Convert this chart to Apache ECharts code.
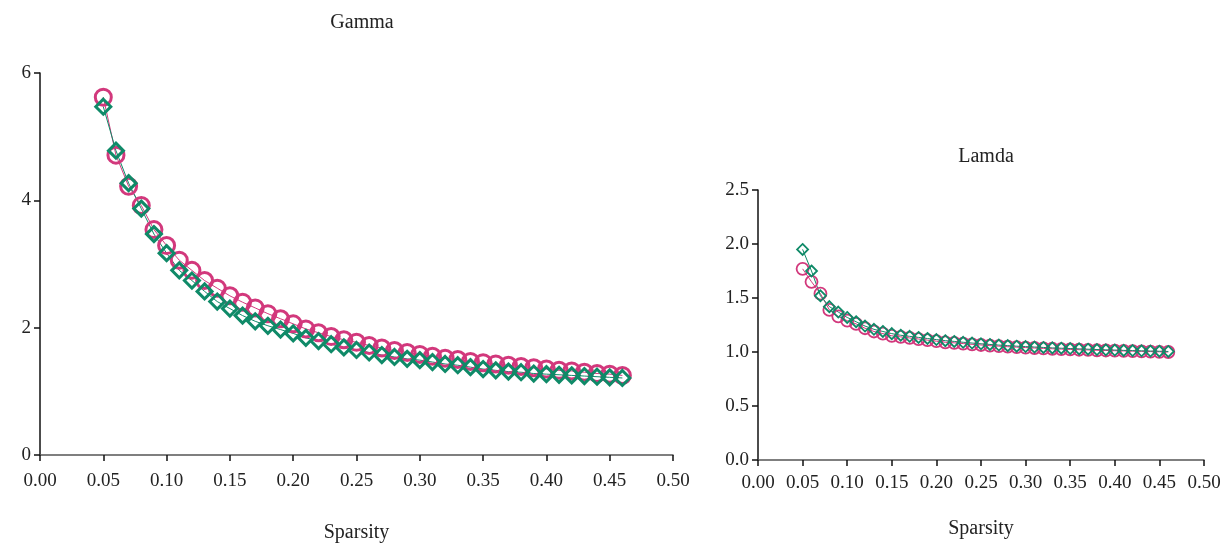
<!DOCTYPE html>
<html>
<head>
<meta charset="utf-8">
<script src="https://cdn.jsdelivr.net/npm/echarts@6/dist/echarts.min.js"></script>
<style>html,body{margin:0;padding:0;background:#fff;}#c{width:1227px;height:546px;}</style>
</head>
<body>
<div id="c"></div>
<script>
const sparsity = [0.05,0.06,0.07,0.08,0.09,0.10,0.11,0.12,0.13,0.14,0.15,0.16,0.17,0.18,0.19,0.20,0.21,0.22,0.23,0.24,0.25,0.26,0.27,0.28,0.29,0.30,0.31,0.32,0.33,0.34,0.35,0.36,0.37,0.38,0.39,0.40,0.41,0.42,0.43,0.44,0.45,0.46];
const gammaCircle = [5.62,4.71,4.22,3.92,3.54,3.29,3.06,2.90,2.74,2.62,2.50,2.40,2.31,2.22,2.14,2.06,1.98,1.92,1.86,1.81,1.77,1.72,1.68,1.64,1.61,1.58,1.55,1.52,1.50,1.47,1.45,1.43,1.41,1.39,1.37,1.35,1.33,1.32,1.30,1.28,1.27,1.25];
const gammaDiamond = [5.47,4.78,4.27,3.87,3.47,3.17,2.90,2.74,2.57,2.41,2.30,2.19,2.10,2.03,1.97,1.91,1.84,1.79,1.74,1.69,1.65,1.61,1.57,1.54,1.51,1.49,1.46,1.43,1.41,1.38,1.35,1.33,1.31,1.30,1.28,1.27,1.26,1.25,1.24,1.23,1.22,1.21];
const lamdaCircle = [1.77,1.65,1.54,1.39,1.33,1.29,1.26,1.22,1.19,1.17,1.15,1.14,1.13,1.12,1.11,1.10,1.09,1.085,1.078,1.071,1.065,1.059,1.054,1.049,1.045,1.041,1.037,1.033,1.03,1.027,1.024,1.021,1.019,1.016,1.014,1.012,1.01,1.008,1.006,1.004,1.002,1.0];
const lamdaDiamond = [1.95,1.75,1.52,1.42,1.37,1.32,1.28,1.24,1.21,1.19,1.17,1.155,1.145,1.135,1.125,1.115,1.105,1.098,1.09,1.083,1.076,1.07,1.064,1.059,1.054,1.05,1.046,1.042,1.038,1.035,1.032,1.029,1.026,1.023,1.02,1.018,1.015,1.013,1.011,1.009,1.007,1.005];
const titles = ['Gamma','Lamda'];
const xName = 'Sparsity';

const PINK = '#d2387c', GREEN = '#0f8a68';
const FONT = '"Liberation Serif", "DejaVu Serif", serif';
const pairs = ys => sparsity.map((x,i)=>[x, ys[i]]);

function xAxis(gi, gap, margin){
  return {type:'value', gridIndex:gi, min:0, max:0.5, interval:0.05,
    name:xName, nameLocation:'middle', nameGap:gap,
    nameTextStyle:{fontFamily:FONT, fontSize:20, color:'#222'},
    axisLine:{show:true, lineStyle:{color:'#555', width:1.5}},
    axisTick:{show:true, inside:false, length:6, lineStyle:{color:'#111', width:1.5}},
    axisLabel:{fontFamily:FONT, fontSize:19, color:'#222', margin:margin, formatter:v=>v.toFixed(2)},
    splitLine:{show:false}};
}
function yAxis(gi, max, interval, dec){
  return {type:'value', gridIndex:gi, min:0, max:max, interval:interval,
    axisLine:{show:true, lineStyle:{color:'#111', width:1.5}},
    axisTick:{show:true, inside:false, length:6, lineStyle:{color:'#111', width:1.5}},
    axisLabel:{fontFamily:FONT, fontSize:19, color:'#222', margin:9, formatter:v=>v.toFixed(dec)},
    splitLine:{show:false}};
}
function ser(gi, ys, sym, size, color, bw){
  return {type:'line', xAxisIndex:gi, yAxisIndex:gi, data:pairs(ys),
    symbol:sym, symbolSize:size, showAllSymbol:true,
    lineStyle:{color:color, width:1},
    itemStyle:{color:'rgba(255,255,255,0)', borderColor:color, borderWidth:bw},
    emphasis:{disabled:true}, animation:false};
}

const chart = echarts.init(document.getElementById('c'), null, {renderer:'canvas'});
chart.setOption({
  animation:false,
  backgroundColor:'#fff',
  title:[
    {text:titles[0], left:357, top:8, textAlign:'center', textStyle:{fontFamily:FONT, fontSize:20, fontWeight:'normal', color:'#222'}},
    {text:titles[1], left:981, top:142, textAlign:'center', textStyle:{fontFamily:FONT, fontSize:20, fontWeight:'normal', color:'#222'}}
  ],
  grid:[
    {left:40, right:554, top:73, bottom:91, containLabel:false, outerBoundsMode:'none'},
    {left:758, right:23, top:190, bottom:86, containLabel:false, outerBoundsMode:'none'}
  ],
  xAxis:[xAxis(0, 68, 17), xAxis(1, 59, 14)],
  yAxis:[yAxis(0, 6, 2, 0), yAxis(1, 2.5, 0.5, 1)],
  series:[
    ser(0, gammaCircle, 'circle', 16, PINK, 3),
    ser(0, gammaDiamond, 'diamond', 15, GREEN, 3),
    ser(1, lamdaCircle, 'circle', 12, PINK, 1.8),
    ser(1, lamdaDiamond, 'diamond', 11, GREEN, 1.8)
  ]
});
</script>
</body>
</html>
